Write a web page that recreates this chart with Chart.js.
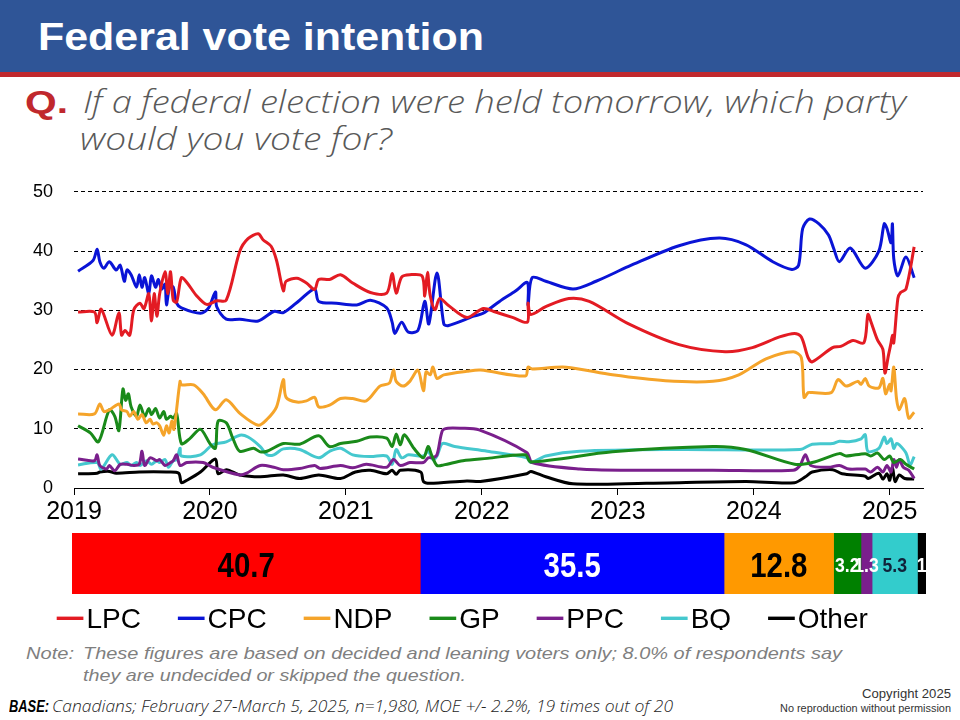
<!DOCTYPE html>
<html><head><meta charset="utf-8">
<script src="https://cdn.jsdelivr.net/npm/chart.js@4.4.1/dist/chart.umd.min.js"></script>
<style>
html,body{margin:0;padding:0;}
body{width:960px;height:720px;position:relative;overflow:hidden;background:#fff;font-family:'Liberation Sans',Arial,sans-serif;}
.t{position:absolute;white-space:nowrap;line-height:1;transform-origin:0 0;}
.q{font-family:'Open Sans','Liberation Sans',sans-serif;font-weight:300;font-style:italic;}
#lineChart{position:absolute;left:0;top:160px;}
#barChart{position:absolute;left:0;top:525px;}
</style></head>
<body>
<div style="position:absolute;left:0;top:0;width:960px;height:72px;background:#2F5597"></div>
<div style="position:absolute;left:0;top:72px;width:960px;height:5px;background:#C0282D"></div>
<div class="t" data-x="38" data-b="50" data-w="446" style="font-size:39.5px;font-weight:bold;color:#fff">Federal vote intention</div>
<div class="t" data-x="24.5" data-b="113" data-w="43" style="font-size:31px;font-weight:bold;color:#C0282D">Q.</div>
<div class="t q" data-x="82.7" data-b="113" data-w="823" style="font-size:31px;color:#595959">If a federal election were held tomorrow, which party</div>
<div class="t q" data-x="80" data-b="150" data-w="312" style="font-size:31px;color:#595959">would you vote for?</div>
<canvas id="lineChart" width="960" height="370"></canvas>
<canvas id="barChart" width="960" height="105"></canvas>
<div class="t" data-x="25.7" data-b="659" data-w="48" style="font-size:17px;font-style:italic;color:#7f7f7f">Note:</div>
<div class="t" data-x="82.7" data-b="659" data-w="759" style="font-size:17px;font-style:italic;color:#7f7f7f">These figures are based on decided and leaning voters only; 8.0% of respondents say</div>
<div class="t" data-x="82.7" data-b="681" data-w="383" style="font-size:17px;font-style:italic;color:#7f7f7f">they are undecided or skipped the question.</div>
<div class="t" data-x="9" data-b="712" data-w="40" style="font-size:16px;font-style:italic;font-weight:bold;color:#000">BASE:</div>
<div class="t q" data-x="52" data-b="712" data-w="621" style="font-size:16px;color:#262626">Canadians; February 27-March 5, 2025, n=1,980, MOE +/- 2.2%, 19 times out of 20</div>
<div class="t" data-r="951" data-b="698" data-w="89" style="font-size:12.5px;color:#333">Copyright 2025</div>
<div class="t" data-r="951" data-b="712" data-w="171" style="font-size:10px;color:#333">No reproduction without permission</div>
<script>
// ---- data ----
const parties = ['LPC','CPC','NDP','GP','PPC','BQ','Other'];
const years = [2019,2020,2021,2022,2023,2024,2025];
const yTicks = [0,10,20,30,40,50];
const shares = [40.7,35.5,12.8,3.2,1.3,5.3,1];

const LPC = [[2019.03,29.7],[2019.15,29.7],[2019.17,27.9],[2019.20,30.2],[2019.28,25.8],[2019.33,29.6],[2019.35,25.8],[2019.375,26.6],[2019.41,25.8],[2019.44,30.1],[2019.485,31.2],[2019.515,30.3],[2019.55,32.8],[2019.57,28.2],[2019.59,32.8],[2019.61,29.0],[2019.63,32.8],[2019.67,36.5],[2019.69,32.8],[2019.71,36.5],[2019.73,31.7],[2019.755,31.4],[2019.79,35.5],[2019.83,34.7],[2019.90,32.5],[2019.975,31.0],[2020.05,31.6],[2020.12,31.7],[2020.22,40.0],[2020.28,42.1],[2020.355,42.9],[2020.39,41.9],[2020.45,40.8],[2020.49,38.4],[2020.54,33.3],[2020.56,34.9],[2020.64,35.4],[2020.71,34.6],[2020.77,33.5],[2020.80,35.2],[2020.88,35.2],[2020.96,36.0],[2021.05,34.6],[2021.18,33.0],[2021.30,32.9],[2021.34,36.2],[2021.37,32.9],[2021.41,35.6],[2021.47,36.0],[2021.56,35.8],[2021.58,32.4],[2021.60,36.4],[2021.62,32.5],[2021.655,30.1],[2021.69,32.0],[2021.75,30.9],[2021.89,28.8],[2022.01,30.3],[2022.10,29.7],[2022.225,28.8],[2022.335,28.0],[2022.34,31.2],[2022.36,29.3],[2022.47,30.6],[2022.64,32.0],[2022.79,31.5],[2023.08,27.7],[2023.45,24.2],[2023.79,23.0],[2023.99,23.7],[2024.19,25.5],[2024.30,26.1],[2024.35,25.5],[2024.40,22.0],[2024.43,21.3],[2024.58,23.7],[2024.64,23.9],[2024.73,24.9],[2024.81,24.5],[2024.84,29.3],[2024.86,28.2],[2024.91,25.0],[2024.95,23.4],[2024.965,19.4],[2024.99,22.3],[2025.01,24.5],[2025.02,25.8],[2025.03,24.5],[2025.06,32.0],[2025.08,33.0],[2025.12,33.6],[2025.18,40.7]];

const CPC = [[2019.03,36.6],[2019.14,38.4],[2019.17,40.3],[2019.19,38.2],[2019.22,37.1],[2019.26,38.2],[2019.31,36.8],[2019.34,37.6],[2019.37,34.9],[2019.39,36.8],[2019.42,36.0],[2019.46,33.9],[2019.48,36.0],[2019.50,33.9],[2019.52,35.5],[2019.55,32.8],[2019.57,35.8],[2019.60,33.9],[2019.62,35.2],[2019.645,33.6],[2019.67,34.4],[2019.68,30.9],[2019.705,34.1],[2019.73,33.9],[2019.755,31.2],[2019.79,30.4],[2019.93,29.5],[2019.99,30.4],[2020.04,33.1],[2020.05,30.6],[2020.12,28.5],[2020.22,28.5],[2020.355,28.2],[2020.47,29.8],[2020.54,29.6],[2020.66,31.7],[2020.77,33.6],[2020.80,31.5],[2020.93,31.2],[2021.08,30.9],[2021.18,31.7],[2021.30,30.4],[2021.34,28.0],[2021.36,26.1],[2021.41,28.0],[2021.46,26.3],[2021.53,26.6],[2021.58,31.5],[2021.61,27.7],[2021.67,36.3],[2021.72,27.7],[2021.75,27.4],[2021.94,29.0],[2022.01,29.5],[2022.13,31.5],[2022.25,33.3],[2022.335,34.7],[2022.34,30.9],[2022.37,35.5],[2022.47,34.9],[2022.67,33.6],[2022.84,34.9],[2023.08,37.4],[2023.45,40.9],[2023.745,42.2],[2023.94,41.1],[2024.14,38.2],[2024.28,36.9],[2024.33,37.6],[2024.36,43.8],[2024.41,45.4],[2024.48,44.6],[2024.55,42.7],[2024.59,40.3],[2024.63,38.2],[2024.71,40.5],[2024.82,37.1],[2024.92,40.0],[2024.96,44.6],[2024.98,43.8],[2025.01,41.4],[2025.02,44.6],[2025.03,38.7],[2025.06,35.8],[2025.12,39.0],[2025.18,35.5]];

const NDP = [[2019.03,12.5],[2019.15,12.5],[2019.19,14.2],[2019.22,12.9],[2019.26,13.2],[2019.33,14.2],[2019.35,13.2],[2019.39,12.9],[2019.41,12.1],[2019.44,12.9],[2019.47,11.6],[2019.50,12.4],[2019.53,11.0],[2019.56,11.6],[2019.58,10.8],[2019.61,11.0],[2019.63,10.5],[2019.66,8.9],[2019.68,10.5],[2019.70,9.3],[2019.72,11.3],[2019.735,9.9],[2019.78,18.0],[2019.79,17.4],[2019.88,17.4],[2019.95,15.9],[2020.04,13.2],[2020.12,14.9],[2020.22,12.6],[2020.355,10.6],[2020.42,11.6],[2020.49,13.7],[2020.54,18.3],[2020.56,15.3],[2020.64,14.5],[2020.71,14.7],[2020.77,15.3],[2020.80,13.7],[2020.88,14.0],[2020.96,15.1],[2021.05,15.1],[2021.15,14.7],[2021.25,17.2],[2021.32,17.7],[2021.35,19.9],[2021.37,18.0],[2021.42,17.2],[2021.47,18.0],[2021.53,19.9],[2021.57,16.4],[2021.59,19.6],[2021.62,19.1],[2021.64,20.4],[2021.67,18.5],[2021.72,19.1],[2021.89,19.7],[2021.99,19.9],[2022.32,18.9],[2022.34,20.4],[2022.37,20.1],[2022.62,20.4],[2022.96,19.1],[2023.35,18.1],[2023.70,18.0],[2023.89,19.1],[2024.09,21.8],[2024.29,23.0],[2024.35,22.0],[2024.37,15.3],[2024.40,16.1],[2024.43,16.1],[2024.57,16.1],[2024.62,18.3],[2024.68,17.2],[2024.765,18.0],[2024.79,17.5],[2024.82,18.5],[2024.85,17.2],[2024.92,16.9],[2024.95,18.5],[2024.97,15.9],[2025.00,17.5],[2025.01,16.4],[2025.03,20.4],[2025.05,15.1],[2025.07,13.2],[2025.11,15.1],[2025.14,11.8],[2025.18,12.8]];

const GP = [[2019.03,10.5],[2019.12,9.3],[2019.18,7.8],[2019.26,13.2],[2019.30,12.1],[2019.33,9.7],[2019.36,16.7],[2019.38,14.8],[2019.40,15.9],[2019.42,13.7],[2019.46,12.1],[2019.485,14.0],[2019.52,12.1],[2019.55,13.4],[2019.57,12.4],[2019.60,13.4],[2019.63,11.8],[2019.66,12.9],[2019.68,11.6],[2019.71,12.1],[2019.73,11.8],[2019.755,12.6],[2019.79,7.5],[2019.85,8.3],[2019.93,9.9],[2020.00,7.5],[2020.04,6.7],[2020.06,11.3],[2020.12,11.0],[2020.17,8.3],[2020.22,6.2],[2020.32,6.7],[2020.37,6.1],[2020.42,6.2],[2020.54,7.5],[2020.66,7.4],[2020.80,8.8],[2020.88,7.0],[2020.96,7.5],[2021.08,7.9],[2021.18,8.6],[2021.30,8.4],[2021.34,7.0],[2021.37,9.1],[2021.40,7.3],[2021.43,9.0],[2021.50,6.7],[2021.57,5.1],[2021.605,7.0],[2021.63,5.6],[2021.67,3.8],[2021.72,3.9],[2021.86,4.6],[2022.04,5.0],[2022.32,5.6],[2022.36,4.4],[2022.96,6.1],[2023.70,7.0],[2023.94,6.5],[2024.30,4.0],[2024.43,4.3],[2024.63,5.8],[2024.68,5.4],[2024.82,5.8],[2024.86,5.4],[2024.91,5.9],[2024.96,4.8],[2025.00,5.4],[2025.03,4.3],[2025.08,4.8],[2025.12,4.0],[2025.18,3.2]];

const PPC = [[2019.03,4.9],[2019.15,4.6],[2019.17,5.6],[2019.19,3.8],[2019.24,3.2],[2019.26,3.8],[2019.30,2.9],[2019.34,4.0],[2019.39,4.0],[2019.44,3.8],[2019.48,4.0],[2019.50,6.2],[2019.52,3.8],[2019.56,5.1],[2019.61,4.6],[2019.63,4.8],[2019.67,3.8],[2019.71,4.3],[2019.73,4.6],[2019.755,5.6],[2019.78,3.8],[2019.83,4.3],[2019.95,4.3],[2020.02,3.5],[2020.22,2.2],[2020.27,2.5],[2020.37,3.8],[2020.47,3.5],[2020.54,3.1],[2020.66,3.3],[2020.77,3.8],[2020.81,3.3],[2020.96,3.8],[2021.05,3.4],[2021.15,4.0],[2021.30,3.5],[2021.35,4.8],[2021.40,3.8],[2021.47,4.3],[2021.57,4.3],[2021.605,5.1],[2021.64,5.1],[2021.67,5.6],[2021.71,9.7],[2021.75,10.1],[2021.84,10.1],[2021.98,9.8],[2022.33,6.0],[2022.37,4.3],[2022.72,3.2],[2023.08,3.0],[2023.70,3.0],[2024.29,3.0],[2024.34,3.8],[2024.38,5.6],[2024.42,3.8],[2024.55,3.5],[2024.63,3.8],[2024.70,3.2],[2024.82,3.2],[2024.86,2.7],[2024.91,3.5],[2024.95,2.7],[2024.98,3.8],[2025.01,2.7],[2025.03,4.8],[2025.05,3.5],[2025.07,4.8],[2025.10,3.5],[2025.14,3.0],[2025.18,1.6]];

const BQ = [[2019.03,3.9],[2019.17,4.3],[2019.20,3.2],[2019.28,5.6],[2019.34,4.0],[2019.39,4.3],[2019.42,3.8],[2019.46,4.3],[2019.485,3.8],[2019.535,4.6],[2019.57,4.0],[2019.61,4.6],[2019.63,4.3],[2019.67,4.8],[2019.695,3.5],[2019.73,4.6],[2019.755,4.8],[2019.78,6.7],[2019.79,5.4],[2019.93,5.6],[2020.02,7.3],[2020.12,7.8],[2020.22,8.9],[2020.28,8.6],[2020.37,7.0],[2020.42,5.6],[2020.47,5.6],[2020.54,6.6],[2020.66,6.5],[2020.80,5.1],[2020.88,6.2],[2020.96,6.7],[2021.05,5.6],[2021.18,5.3],[2021.30,5.4],[2021.34,4.0],[2021.37,6.5],[2021.41,5.1],[2021.46,5.6],[2021.57,5.4],[2021.605,6.2],[2021.64,4.8],[2021.67,5.4],[2021.71,7.5],[2021.80,7.0],[2022.04,6.2],[2022.33,5.1],[2022.36,4.3],[2022.47,5.4],[2022.72,6.2],[2023.45,6.5],[2024.34,6.5],[2024.43,7.4],[2024.58,7.5],[2024.63,7.9],[2024.70,7.8],[2024.79,8.3],[2024.82,9.0],[2024.84,6.2],[2024.92,6.7],[2024.96,8.6],[2024.98,7.5],[2025.01,8.3],[2025.03,6.7],[2025.05,7.5],[2025.07,7.3],[2025.12,5.9],[2025.15,3.9],[2025.18,5.3]];

const OTHER = [[2019.03,2.4],[2019.17,2.5],[2019.19,2.7],[2019.26,2.8],[2019.31,2.5],[2019.48,2.7],[2019.68,2.7],[2019.77,2.5],[2019.79,0.9],[2019.83,1.3],[2019.93,2.7],[2020.04,4.9],[2020.06,2.4],[2020.12,3.1],[2020.22,2.2],[2020.37,1.9],[2020.54,2.2],[2020.66,1.6],[2020.80,2.2],[2020.96,1.6],[2021.07,2.7],[2021.18,3.0],[2021.30,2.4],[2021.34,3.0],[2021.37,2.3],[2021.40,3.0],[2021.55,2.7],[2021.57,1.1],[2021.62,0.8],[2021.89,1.2],[2021.99,1.1],[2022.33,2.4],[2022.36,2.8],[2022.47,1.9],[2022.67,0.7],[2023.21,0.8],[2023.94,1.1],[2024.30,0.9],[2024.38,1.9],[2024.43,2.7],[2024.58,3.1],[2024.65,2.4],[2024.82,2.0],[2024.84,1.6],[2024.92,2.5],[2024.95,1.5],[2024.98,2.4],[2025.00,1.3],[2025.02,3.5],[2025.04,1.1],[2025.07,2.2],[2025.11,1.6],[2025.18,1.5]];

const series = [LPC, CPC, NDP, GP, PPC, BQ, OTHER];

// ---- styles ----
const lineColors = ['#E31B23','#0A14D6','#F5A42A','#1A8A1A','#7A1F8C','#45C8CE','#000000'];
const barColors  = ['#FF0000','#0000FF','#FF9900','#008000','#7A1F8C','#33CCCC','#000000'];
const labelColors = ['#000000','#FFFFFF','#000000','#FFFFFF','#FFFFFF','#10233A','#FFFFFF'];
const FONT = "'Liberation Sans', Arial, sans-serif";
Chart.defaults.font.family = FONT;

// ---- html text placement ----
document.querySelectorAll('.t').forEach(el => {
  const probe = document.createElement('span');
  probe.style.cssText = 'display:inline-block;width:0;height:0;vertical-align:baseline';
  el.appendChild(probe);
  const off = probe.offsetTop;
  el.removeChild(probe);
  const w = el.getBoundingClientRect().width;
  const target = +el.dataset.w;
  el.style.transform = 'scaleX(' + (target / w) + ')';
  el.style.top = (+el.dataset.b - off) + 'px';
  if (el.dataset.r) el.style.left = (+el.dataset.r - target) + 'px';
  else el.style.left = el.dataset.x + 'px';
});

// ---- line chart ----
new Chart(document.getElementById('lineChart'), {
  type: 'line',
  data: {
    datasets: parties.map((p, i) => ({
      label: p,
      data: series[i].map(([x, y]) => ({x, y})),
      borderColor: lineColors[i],
      backgroundColor: lineColors[i],
      borderWidth: 3,
      pointRadius: 0,
      tension: 0.3,
      fill: false
    }))
  },
  options: {
    animation: false, responsive: false,
    layout: {padding: {left: 0, right: 37, top: 17, bottom: 10}},
    plugins: {legend: {display: false}, tooltip: {enabled: false}},
    scales: {
      x: {
        type: 'linear', min: 2019, max: 2025.245,
        afterBuildTicks: s => { s.ticks = years.map(v => ({value: v})); },
        afterFit: s => { s.height = 32; },
        ticks: {font: {size: 25}, color: '#000', padding: 2, maxRotation: 0, autoSkip: false, callback: v => String(v)},
        grid: {drawOnChartArea: false, drawTicks: true, tickLength: 7, color: '#000', lineWidth: 1},
        border: {display: true, color: '#000', width: 1}
      },
      y: {
        min: 0, max: 50,
        afterBuildTicks: s => { s.ticks = yTicks.map(v => ({value: v})); },
        afterFit: s => { s.width = 74; },
        ticks: {font: {size: 18}, color: '#000', padding: 21},
        grid: {drawTicks: false, lineWidth: 1, color: c => (c.tick && c.tick.value === 0) ? 'rgba(0,0,0,0)' : '#000'},
        border: {display: false, dash: [4, 3]}
      }
    }
  }
});

// ---- stacked bar ----
const total = shares.reduce((a, b) => a + b, 0);
const barLabelPlugin = {
  id: 'barLabels',
  afterDatasetsDraw(chart) {
    const ctx = chart.ctx;
    chart.data.datasets.forEach((ds, i) => {
      const bar = chart.getDatasetMeta(i).data[0];
      const {x, base, y} = bar.getProps(['x', 'base', 'y'], true);
      const v = ds.data[0];
      const size = v >= 10 ? 35 : 21;
      ctx.save();
      ctx.font = 'bold ' + size + 'px ' + FONT;
      ctx.fillStyle = labelColors[i];
      ctx.textAlign = 'center';
      ctx.textBaseline = 'alphabetic';
      ctx.translate((x + base) / 2, y + 0.716 * size / 2 + 0.5);
      ctx.scale(0.84, 1);
      ctx.fillText(String(v), 0, 0);
      ctx.restore();
    });
  }
};
const legendPlugin = {
  id: 'lineLegend',
  afterDraw(chart) {
    const ctx = chart.ctx;
    ctx.save();
    ctx.font = '28px ' + FONT;
    ctx.textBaseline = 'alphabetic';
    ctx.textAlign = 'left';
    let x = 56.7;
    const yDash = 93.3, yBase = 103.3;
    chart.data.datasets.forEach((ds, i) => {
      ctx.fillStyle = lineColors[i];
      ctx.fillRect(x, yDash - 1.7, 26.7, 3.4);
      x += 26.7 + 3;
      ctx.fillStyle = '#000';
      ctx.fillText(ds.label, x, yBase);
      x += ctx.measureText(ds.label).width + 37;
    });
    ctx.restore();
  }
};
new Chart(document.getElementById('barChart'), {
  type: 'bar',
  data: {
    labels: ['Current'],
    datasets: parties.map((p, i) => ({
      label: p, data: [shares[i]], backgroundColor: barColors[i],
      borderWidth: 0, barPercentage: 1, categoryPercentage: 1
    }))
  },
  options: {
    indexAxis: 'y', animation: false, responsive: false,
    layout: {padding: {left: 72, right: 34, top: 8, bottom: 36}},
    plugins: {legend: {display: false}, tooltip: {enabled: false}},
    scales: {
      x: {stacked: true, min: 0, max: total, display: false},
      y: {stacked: true, display: false}
    }
  },
  plugins: [barLabelPlugin, legendPlugin]
});
</script>
</body></html>
